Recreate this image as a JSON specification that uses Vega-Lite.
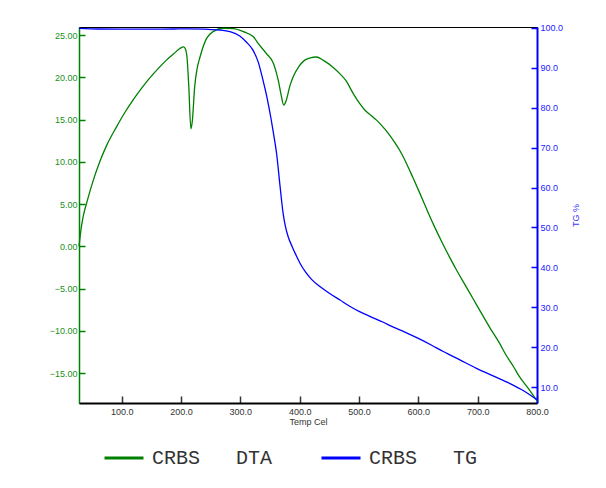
{
  "$schema": "https://vega.github.io/schema/vega-lite/v6.json",
  "width": 458,
  "height": 376,
  "autosize": {"type": "none"},
  "padding": {"left": 79, "top": 27, "right": 69, "bottom": 85},
  "background": "white",
  "config": {
    "view": {"stroke": "black", "strokeWidth": 1},
    "axis": {"labelFont": "Liberation Sans", "titleFont": "Liberation Sans", "labelFontSize": 9, "titleFontSize": 9, "titleFontWeight": "normal", "grid": false}
  },
  "datasets": {
    "dta": [
      {"T": 28, "v": 0, "series": "CRBS\u00a0\u00a0\u00a0DTA"},
      {"T": 31, "v": 1.8, "series": "CRBS\u00a0\u00a0\u00a0DTA"},
      {"T": 35, "v": 3.5, "series": "CRBS\u00a0\u00a0\u00a0DTA"},
      {"T": 42, "v": 5.4, "series": "CRBS\u00a0\u00a0\u00a0DTA"},
      {"T": 52, "v": 7.8, "series": "CRBS\u00a0\u00a0\u00a0DTA"},
      {"T": 63, "v": 10.0, "series": "CRBS\u00a0\u00a0\u00a0DTA"},
      {"T": 75, "v": 12.0, "series": "CRBS\u00a0\u00a0\u00a0DTA"},
      {"T": 91, "v": 14.1, "series": "CRBS\u00a0\u00a0\u00a0DTA"},
      {"T": 105, "v": 15.8, "series": "CRBS\u00a0\u00a0\u00a0DTA"},
      {"T": 119, "v": 17.3, "series": "CRBS\u00a0\u00a0\u00a0DTA"},
      {"T": 133, "v": 18.65, "series": "CRBS\u00a0\u00a0\u00a0DTA"},
      {"T": 147, "v": 19.9, "series": "CRBS\u00a0\u00a0\u00a0DTA"},
      {"T": 161, "v": 21.0, "series": "CRBS\u00a0\u00a0\u00a0DTA"},
      {"T": 175, "v": 22.0, "series": "CRBS\u00a0\u00a0\u00a0DTA"},
      {"T": 188, "v": 22.8, "series": "CRBS\u00a0\u00a0\u00a0DTA"},
      {"T": 198, "v": 23.4, "series": "CRBS\u00a0\u00a0\u00a0DTA"},
      {"T": 204, "v": 23.6, "series": "CRBS\u00a0\u00a0\u00a0DTA"},
      {"T": 207, "v": 23.4, "series": "CRBS\u00a0\u00a0\u00a0DTA"},
      {"T": 210, "v": 22.4, "series": "CRBS\u00a0\u00a0\u00a0DTA"},
      {"T": 213, "v": 19.0, "series": "CRBS\u00a0\u00a0\u00a0DTA"},
      {"T": 216.6, "v": 13.9, "series": "CRBS\u00a0\u00a0\u00a0DTA"},
      {"T": 219, "v": 14.8, "series": "CRBS\u00a0\u00a0\u00a0DTA"},
      {"T": 223, "v": 18.9, "series": "CRBS\u00a0\u00a0\u00a0DTA"},
      {"T": 227, "v": 21.0, "series": "CRBS\u00a0\u00a0\u00a0DTA"},
      {"T": 232, "v": 22.4, "series": "CRBS\u00a0\u00a0\u00a0DTA"},
      {"T": 243, "v": 24.6, "series": "CRBS\u00a0\u00a0\u00a0DTA"},
      {"T": 254, "v": 25.4, "series": "CRBS\u00a0\u00a0\u00a0DTA"},
      {"T": 271, "v": 25.8, "series": "CRBS\u00a0\u00a0\u00a0DTA"},
      {"T": 288, "v": 25.75, "series": "CRBS\u00a0\u00a0\u00a0DTA"},
      {"T": 305, "v": 25.4, "series": "CRBS\u00a0\u00a0\u00a0DTA"},
      {"T": 322, "v": 24.8, "series": "CRBS\u00a0\u00a0\u00a0DTA"},
      {"T": 330, "v": 24.0, "series": "CRBS\u00a0\u00a0\u00a0DTA"},
      {"T": 344, "v": 22.8, "series": "CRBS\u00a0\u00a0\u00a0DTA"},
      {"T": 356, "v": 21.6, "series": "CRBS\u00a0\u00a0\u00a0DTA"},
      {"T": 364, "v": 19.6, "series": "CRBS\u00a0\u00a0\u00a0DTA"},
      {"T": 369, "v": 17.8, "series": "CRBS\u00a0\u00a0\u00a0DTA"},
      {"T": 373, "v": 16.7, "series": "CRBS\u00a0\u00a0\u00a0DTA"},
      {"T": 376, "v": 17.0, "series": "CRBS\u00a0\u00a0\u00a0DTA"},
      {"T": 384, "v": 19.1, "series": "CRBS\u00a0\u00a0\u00a0DTA"},
      {"T": 390, "v": 20.2, "series": "CRBS\u00a0\u00a0\u00a0DTA"},
      {"T": 398, "v": 21.2, "series": "CRBS\u00a0\u00a0\u00a0DTA"},
      {"T": 408, "v": 22.0, "series": "CRBS\u00a0\u00a0\u00a0DTA"},
      {"T": 418, "v": 22.3, "series": "CRBS\u00a0\u00a0\u00a0DTA"},
      {"T": 428, "v": 22.4, "series": "CRBS\u00a0\u00a0\u00a0DTA"},
      {"T": 440, "v": 22.0, "series": "CRBS\u00a0\u00a0\u00a0DTA"},
      {"T": 456, "v": 21.2, "series": "CRBS\u00a0\u00a0\u00a0DTA"},
      {"T": 468, "v": 20.4, "series": "CRBS\u00a0\u00a0\u00a0DTA"},
      {"T": 478, "v": 19.6, "series": "CRBS\u00a0\u00a0\u00a0DTA"},
      {"T": 490, "v": 18.1, "series": "CRBS\u00a0\u00a0\u00a0DTA"},
      {"T": 501, "v": 16.9, "series": "CRBS\u00a0\u00a0\u00a0DTA"},
      {"T": 510, "v": 16.1, "series": "CRBS\u00a0\u00a0\u00a0DTA"},
      {"T": 520, "v": 15.5, "series": "CRBS\u00a0\u00a0\u00a0DTA"},
      {"T": 530, "v": 14.9, "series": "CRBS\u00a0\u00a0\u00a0DTA"},
      {"T": 538, "v": 14.3, "series": "CRBS\u00a0\u00a0\u00a0DTA"},
      {"T": 550, "v": 13.3, "series": "CRBS\u00a0\u00a0\u00a0DTA"},
      {"T": 560, "v": 12.3, "series": "CRBS\u00a0\u00a0\u00a0DTA"},
      {"T": 569, "v": 11.3, "series": "CRBS\u00a0\u00a0\u00a0DTA"},
      {"T": 580, "v": 9.8, "series": "CRBS\u00a0\u00a0\u00a0DTA"},
      {"T": 591, "v": 8.1, "series": "CRBS\u00a0\u00a0\u00a0DTA"},
      {"T": 603, "v": 6.2, "series": "CRBS\u00a0\u00a0\u00a0DTA"},
      {"T": 614, "v": 4.4, "series": "CRBS\u00a0\u00a0\u00a0DTA"},
      {"T": 626, "v": 2.5, "series": "CRBS\u00a0\u00a0\u00a0DTA"},
      {"T": 639, "v": 0.6, "series": "CRBS\u00a0\u00a0\u00a0DTA"},
      {"T": 652, "v": -1.2, "series": "CRBS\u00a0\u00a0\u00a0DTA"},
      {"T": 665, "v": -2.9, "series": "CRBS\u00a0\u00a0\u00a0DTA"},
      {"T": 679, "v": -4.6, "series": "CRBS\u00a0\u00a0\u00a0DTA"},
      {"T": 693, "v": -6.3, "series": "CRBS\u00a0\u00a0\u00a0DTA"},
      {"T": 707, "v": -8.0, "series": "CRBS\u00a0\u00a0\u00a0DTA"},
      {"T": 722, "v": -9.8, "series": "CRBS\u00a0\u00a0\u00a0DTA"},
      {"T": 737, "v": -11.5, "series": "CRBS\u00a0\u00a0\u00a0DTA"},
      {"T": 748, "v": -12.9, "series": "CRBS\u00a0\u00a0\u00a0DTA"},
      {"T": 760, "v": -14.2, "series": "CRBS\u00a0\u00a0\u00a0DTA"},
      {"T": 771, "v": -15.5, "series": "CRBS\u00a0\u00a0\u00a0DTA"},
      {"T": 785, "v": -16.8, "series": "CRBS\u00a0\u00a0\u00a0DTA"},
      {"T": 800, "v": -18.3, "series": "CRBS\u00a0\u00a0\u00a0DTA"}
    ],
    "tg": [
      {"T": 28, "v": 99.9, "series": "CRBS\u00a0\u00a0\u00a0TG"},
      {"T": 60, "v": 99.75, "series": "CRBS\u00a0\u00a0\u00a0TG"},
      {"T": 100, "v": 99.7, "series": "CRBS\u00a0\u00a0\u00a0TG"},
      {"T": 150, "v": 99.7, "series": "CRBS\u00a0\u00a0\u00a0TG"},
      {"T": 188, "v": 99.75, "series": "CRBS\u00a0\u00a0\u00a0TG"},
      {"T": 210, "v": 99.8, "series": "CRBS\u00a0\u00a0\u00a0TG"},
      {"T": 240, "v": 99.7, "series": "CRBS\u00a0\u00a0\u00a0TG"},
      {"T": 265, "v": 99.5, "series": "CRBS\u00a0\u00a0\u00a0TG"},
      {"T": 282, "v": 99.1, "series": "CRBS\u00a0\u00a0\u00a0TG"},
      {"T": 299, "v": 98.0, "series": "CRBS\u00a0\u00a0\u00a0TG"},
      {"T": 310, "v": 96.5, "series": "CRBS\u00a0\u00a0\u00a0TG"},
      {"T": 321, "v": 94.5, "series": "CRBS\u00a0\u00a0\u00a0TG"},
      {"T": 330, "v": 91.5, "series": "CRBS\u00a0\u00a0\u00a0TG"},
      {"T": 338, "v": 87.0, "series": "CRBS\u00a0\u00a0\u00a0TG"},
      {"T": 345, "v": 82.5, "series": "CRBS\u00a0\u00a0\u00a0TG"},
      {"T": 352, "v": 77.0, "series": "CRBS\u00a0\u00a0\u00a0TG"},
      {"T": 357, "v": 72.5, "series": "CRBS\u00a0\u00a0\u00a0TG"},
      {"T": 361, "v": 68.6, "series": "CRBS\u00a0\u00a0\u00a0TG"},
      {"T": 367, "v": 60.2, "series": "CRBS\u00a0\u00a0\u00a0TG"},
      {"T": 372, "v": 53.6, "series": "CRBS\u00a0\u00a0\u00a0TG"},
      {"T": 376, "v": 50.2, "series": "CRBS\u00a0\u00a0\u00a0TG"},
      {"T": 381, "v": 47.5, "series": "CRBS\u00a0\u00a0\u00a0TG"},
      {"T": 387, "v": 45.3, "series": "CRBS\u00a0\u00a0\u00a0TG"},
      {"T": 394, "v": 43.0, "series": "CRBS\u00a0\u00a0\u00a0TG"},
      {"T": 401, "v": 40.9, "series": "CRBS\u00a0\u00a0\u00a0TG"},
      {"T": 410, "v": 38.8, "series": "CRBS\u00a0\u00a0\u00a0TG"},
      {"T": 420, "v": 37.0, "series": "CRBS\u00a0\u00a0\u00a0TG"},
      {"T": 434, "v": 35.2, "series": "CRBS\u00a0\u00a0\u00a0TG"},
      {"T": 450, "v": 33.5, "series": "CRBS\u00a0\u00a0\u00a0TG"},
      {"T": 468, "v": 31.8, "series": "CRBS\u00a0\u00a0\u00a0TG"},
      {"T": 485, "v": 30.2, "series": "CRBS\u00a0\u00a0\u00a0TG"},
      {"T": 501, "v": 28.9, "series": "CRBS\u00a0\u00a0\u00a0TG"},
      {"T": 520, "v": 27.6, "series": "CRBS\u00a0\u00a0\u00a0TG"},
      {"T": 540, "v": 26.3, "series": "CRBS\u00a0\u00a0\u00a0TG"},
      {"T": 558, "v": 25.0, "series": "CRBS\u00a0\u00a0\u00a0TG"},
      {"T": 580, "v": 23.6, "series": "CRBS\u00a0\u00a0\u00a0TG"},
      {"T": 600, "v": 22.2, "series": "CRBS\u00a0\u00a0\u00a0TG"},
      {"T": 621, "v": 20.6, "series": "CRBS\u00a0\u00a0\u00a0TG"},
      {"T": 642, "v": 18.9, "series": "CRBS\u00a0\u00a0\u00a0TG"},
      {"T": 670, "v": 16.8, "series": "CRBS\u00a0\u00a0\u00a0TG"},
      {"T": 698, "v": 14.7, "series": "CRBS\u00a0\u00a0\u00a0TG"},
      {"T": 726, "v": 12.8, "series": "CRBS\u00a0\u00a0\u00a0TG"},
      {"T": 754, "v": 10.9, "series": "CRBS\u00a0\u00a0\u00a0TG"},
      {"T": 778, "v": 9.0, "series": "CRBS\u00a0\u00a0\u00a0TG"},
      {"T": 800, "v": 6.8, "series": "CRBS\u00a0\u00a0\u00a0TG"}
    ]
  },
  "encoding": {
    "x": {
      "field": "T", "type": "quantitative",
      "scale": {"domain": [28, 800], "nice": false, "zero": false},
      "axis": {
        "title": "Temp Cel", "values": [100, 200, 300, 400, 500, 600, 700, 800], "format": ".1f",
        "domainColor": "black", "domainWidth": 2, "tickColor": "#333", "tickSize": -7, "tickWidth": 1.5,
        "labelColor": "#333", "titleColor": "#333", "labelPadding": 11, "titlePadding": 1, "labelFlush": false
      }
    }
  },
  "layer": [
    {
      "data": {"name": "dta"},
      "mark": {"type": "line", "interpolate": "monotone", "strokeWidth": 1.3},
      "encoding": {
        "y": {
          "field": "v", "type": "quantitative",
          "scale": {"domain": [-18.55, 25.95], "nice": false, "zero": false},
          "axis": {
            "orient": "left", "title": null, "values": [-15, -10, -5, 0, 5, 10, 15, 20, 25], "format": ".2f",
            "domainColor": "#008000", "domainWidth": 1.5, "tickColor": "#008000", "tickSize": -6, "tickWidth": 1.5,
            "labelColor": "#1a8f1a", "labelPadding": 8
          }
        },
        "color": {
          "field": "series", "type": "nominal",
          "scale": {"domain": ["CRBS\u00a0\u00a0\u00a0DTA", "CRBS\u00a0\u00a0\u00a0TG"], "range": ["#008000", "#0000ff"]},
          "legend": {
            "title": null, "orient": "none", "direction": "horizontal", "legendX": 24, "legendY": 410,
            "symbolType": "stroke", "symbolSize": 1521, "symbolStrokeWidth": 3,
            "labelFont": "Liberation Mono", "labelFontSize": 20, "labelFontWeight": "normal", "labelColor": "#333", "labelOffset": 7,
            "columnPadding": 42, "labelLimit": 300
          }
        }
      }
    },
    {
      "data": {"name": "tg"},
      "mark": {"type": "line", "interpolate": "monotone", "strokeWidth": 1.3},
      "encoding": {
        "y": {
          "field": "v", "type": "quantitative",
          "scale": {"domain": [6, 100.25], "nice": false, "zero": false},
          "axis": {
            "orient": "right", "title": "TG %", "titleAngle": -90, "values": [10, 20, 30, 40, 50, 60, 70, 80, 90, 100], "format": ".1f",
            "domainColor": "#0000ff", "domainWidth": 2, "tickColor": "#0000ff", "tickSize": -6, "tickWidth": 1.5,
            "labelColor": "#2222ff", "titleColor": "#3333ff", "labelPadding": 9, "titlePadding": 18
          }
        },
        "color": {"field": "series", "type": "nominal"}
      }
    }
  ],
  "resolve": {"scale": {"y": "independent"}}
}
